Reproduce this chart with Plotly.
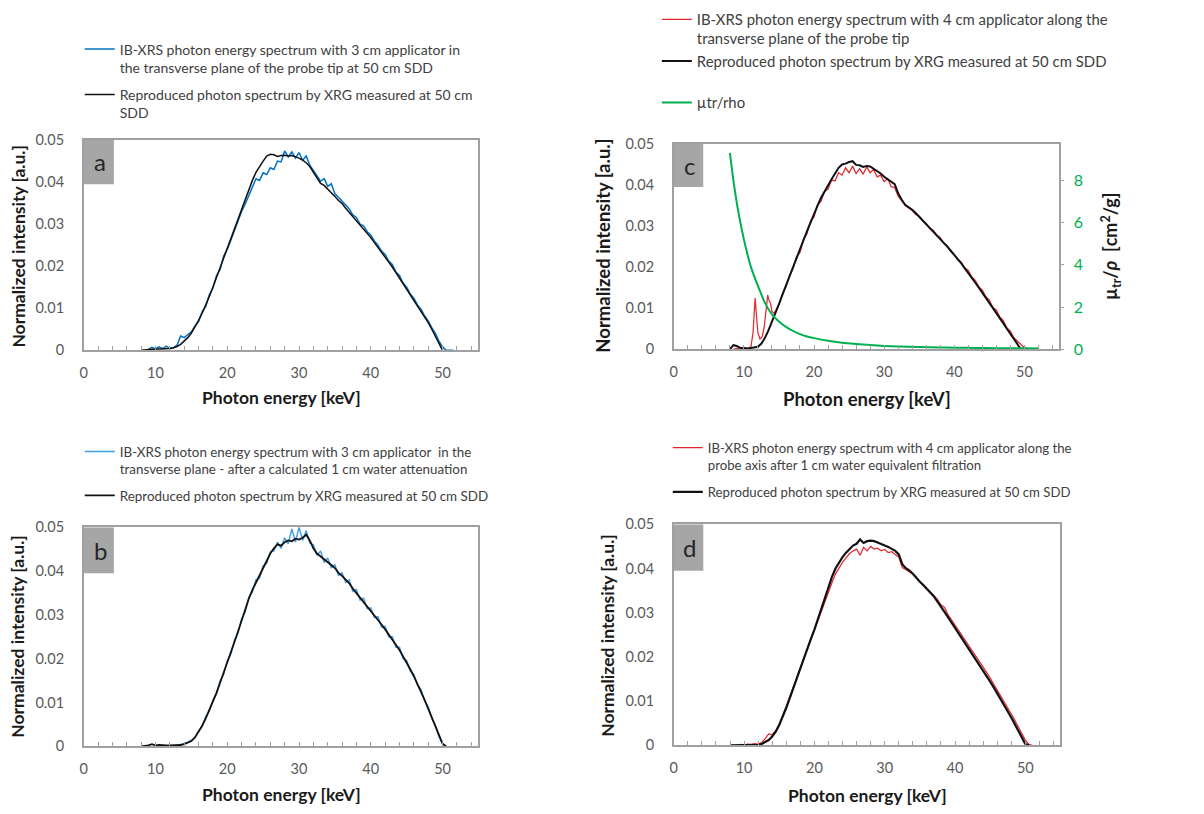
import plotly.graph_objects as go

W, H = 1204, 814
STEP = 0.5  # keV spacing of the tabulated spectra

FONT = "Lato"
TEXT = "#404040"
TICK = "#595959"
AXIS = "#a0a0a0"
BLUE_A = "#0070c0"
BLUE_B = "#3f9de2"
RED = "#e0292e"
GREEN = "#00b050"
BLACK = "#111111"

# ---------------- panel a ----------------
a_xrg_start = 8.0
a_xrg = [0.0000, 0.0001, 0.0002, 0.0003, 0.0003, 0.0003, 0.0003, 0.0003, 0.0004, 0.0006,
         0.0009, 0.0014, 0.0021, 0.0030, 0.0041, 0.0055, 0.0071, 0.0088, 0.0107, 0.0128,
         0.0150, 0.0173, 0.0196, 0.0220, 0.0244, 0.0268, 0.0292, 0.0315, 0.0338, 0.0360,
         0.0382, 0.0404, 0.0423, 0.0438, 0.0450, 0.0462, 0.0466, 0.0465, 0.0461, 0.0463,
         0.0464, 0.0462, 0.0463, 0.0460, 0.0457, 0.0452, 0.0446, 0.0437, 0.0424, 0.0410,
         0.0397, 0.0392, 0.0384, 0.0376, 0.0366, 0.0356, 0.0349, 0.0338, 0.0328, 0.0318,
         0.0307, 0.0298, 0.0287, 0.0279, 0.0268, 0.0256, 0.0245, 0.0234, 0.0222, 0.0210,
         0.0198, 0.0185, 0.0172, 0.0159, 0.0146, 0.0133, 0.0120, 0.0107, 0.0094, 0.0080,
         0.0066, 0.0050, 0.0033, 0.0015, 0.0000]
a_ibxrs_start = 9.0
a_ibxrs = [0.0002, 0.0007, 0.0003, 0.0008, 0.0004, 0.0010, 0.0004, 0.0006, 0.0012, 0.0034,
           0.0030, 0.0038, 0.0044, 0.0058, 0.0068, 0.0092, 0.0104, 0.0132, 0.0148, 0.0178,
           0.0192, 0.0224, 0.0240, 0.0262, 0.0286, 0.0306, 0.0330, 0.0348, 0.0370, 0.0388,
           0.0408, 0.0404, 0.0422, 0.0418, 0.0434, 0.0430, 0.0450, 0.0448, 0.0474, 0.0460,
           0.0472, 0.0457, 0.0470, 0.0452, 0.0462, 0.0440, 0.0428, 0.0414, 0.0402, 0.0408,
           0.0390, 0.0396, 0.0372, 0.0364, 0.0354, 0.0344, 0.0336, 0.0322, 0.0316, 0.0300,
           0.0296, 0.0282, 0.0274, 0.0260, 0.0250, 0.0236, 0.0228, 0.0212, 0.0204, 0.0186,
           0.0178, 0.0160, 0.0150, 0.0134, 0.0124, 0.0108, 0.0098, 0.0082, 0.0070, 0.0054,
           0.0040, 0.0022, 0.0008, 0.0000, 0.0000, 0.0000]

# ---------------- panel b ----------------
b_xrg_start = 8.0
b_xrg = [0.0000, 0.0001, 0.0002, 0.0005, 0.0002, 0.0003, 0.0002, 0.0002, 0.0002, 0.0002,
         0.0002, 0.0003, 0.0005, 0.0008, 0.0012, 0.0020, 0.0032, 0.0047, 0.0064, 0.0082,
         0.0101, 0.0122, 0.0145, 0.0167, 0.0190, 0.0213, 0.0238, 0.0262, 0.0288, 0.0312,
         0.0337, 0.0357, 0.0374, 0.0390, 0.0406, 0.0424, 0.0440, 0.0452, 0.0461, 0.0458,
         0.0466, 0.0470, 0.0468, 0.0474, 0.0472, 0.0476, 0.0483, 0.0470, 0.0452, 0.0440,
         0.0434, 0.0428, 0.0422, 0.0414, 0.0407, 0.0396, 0.0389, 0.0380, 0.0372, 0.0360,
         0.0350, 0.0340, 0.0330, 0.0320, 0.0309, 0.0300, 0.0289, 0.0278, 0.0267, 0.0256,
         0.0244, 0.0232, 0.0220, 0.0206, 0.0191, 0.0176, 0.0160, 0.0143, 0.0125, 0.0106,
         0.0086, 0.0066, 0.0045, 0.0024, 0.0006, 0.0000]
b_ibxrs_start = 13.0
b_ibxrs = [0.0002, 0.0004, 0.0006, 0.0009, 0.0014, 0.0021, 0.0034, 0.0045, 0.0068, 0.0080,
           0.0105, 0.0120, 0.0150, 0.0164, 0.0194, 0.0210, 0.0242, 0.0258, 0.0292, 0.0306,
           0.0340, 0.0352, 0.0380, 0.0384, 0.0412, 0.0418, 0.0444, 0.0446, 0.0466, 0.0452,
           0.0476, 0.0462, 0.0496, 0.0466, 0.0500, 0.0470, 0.0492, 0.0464, 0.0460, 0.0436,
           0.0446, 0.0420, 0.0430, 0.0408, 0.0414, 0.0390, 0.0396, 0.0374, 0.0380, 0.0354,
           0.0358, 0.0334, 0.0338, 0.0314, 0.0316, 0.0294, 0.0296, 0.0272, 0.0274, 0.0250,
           0.0250, 0.0226, 0.0226, 0.0200, 0.0196, 0.0172, 0.0164, 0.0140, 0.0130, 0.0104,
           0.0090, 0.0064, 0.0048, 0.0022, 0.0006, 0.0000]

# ---------------- panel c ----------------
c_xrg_start = 8.0
c_xrg = [0.0000, 0.0010, 0.0008, 0.0003, 0.0003, 0.0002, 0.0003, 0.0004, 0.0006, 0.0014,
         0.0028, 0.0046, 0.0066, 0.0088, 0.0110, 0.0133, 0.0156, 0.0178, 0.0200, 0.0222,
         0.0243, 0.0266, 0.0288, 0.0310, 0.0330, 0.0350, 0.0369, 0.0385, 0.0400, 0.0414,
         0.0428, 0.0442, 0.0450, 0.0452, 0.0456, 0.0458, 0.0449, 0.0448, 0.0444, 0.0446,
         0.0445, 0.0440, 0.0434, 0.0428, 0.0420, 0.0414, 0.0409, 0.0402, 0.0380, 0.0364,
         0.0352, 0.0347, 0.0340, 0.0332, 0.0323, 0.0314, 0.0306, 0.0297, 0.0288, 0.0278,
         0.0269, 0.0260, 0.0250, 0.0240, 0.0230, 0.0220, 0.0209, 0.0197, 0.0186, 0.0174,
         0.0162, 0.0150, 0.0138, 0.0126, 0.0114, 0.0101, 0.0089, 0.0076, 0.0063, 0.0050,
         0.0037, 0.0024, 0.0011, 0.0000]
# fluorescence lines below 15 keV are tabulated on a finer energy grid
c_ibxrs_low_energy = [8.5, 9.0, 9.5, 10.0, 10.5, 11.0, 11.3, 11.5, 11.6, 11.8, 12.0, 12.3,
                      12.6, 12.9, 13.2, 13.4, 13.6, 13.8, 14.0, 14.3, 14.6]
c_ibxrs_low = [0.0000, 0.0002, 0.0000, 0.0003, 0.0002, 0.0006, 0.0040, 0.0110, 0.0125, 0.0080,
               0.0040, 0.0025, 0.0030, 0.0055, 0.0110, 0.0132, 0.0118, 0.0112, 0.0092, 0.0088,
               0.0095]
c_ibxrs_high_start = 15.0
c_ibxrs_high = [0.0110, 0.0135, 0.0152, 0.0180, 0.0196, 0.0225, 0.0236, 0.0268, 0.0282, 0.0312,
                0.0322, 0.0352, 0.0360, 0.0384, 0.0390, 0.0412, 0.0410, 0.0430, 0.0424, 0.0442,
                0.0430, 0.0446, 0.0428, 0.0440, 0.0426, 0.0444, 0.0430, 0.0438, 0.0420, 0.0424,
                0.0408, 0.0416, 0.0396, 0.0394, 0.0372, 0.0362, 0.0350, 0.0344, 0.0338, 0.0328,
                0.0324, 0.0312, 0.0306, 0.0294, 0.0290, 0.0278, 0.0272, 0.0258, 0.0252, 0.0238,
                0.0230, 0.0218, 0.0212, 0.0198, 0.0192, 0.0176, 0.0168, 0.0152, 0.0144, 0.0128,
                0.0120, 0.0102, 0.0096, 0.0078, 0.0070, 0.0052, 0.0044, 0.0028, 0.0020, 0.0010,
                0.0004, 0.0000]
# mass energy-transfer coefficient of water, cm^2/g
mu_energy = [8, 8.5, 9, 9.5, 10, 11, 12, 13, 14, 15, 16, 17, 18, 19, 20, 22, 24, 26, 28,
             30, 32, 35, 38, 40, 43, 46, 50, 52]
mu_tr_rho = [9.3, 8.0, 6.9, 6.0, 5.2, 3.9, 3.0, 2.2, 1.65, 1.32, 1.06, 0.87, 0.72, 0.61,
             0.53, 0.40, 0.31, 0.25, 0.20, 0.16, 0.135, 0.105, 0.085, 0.075, 0.063, 0.055,
             0.047, 0.044]

# ---------------- panel d ----------------
d_xrg_start = 8.0
d_xrg = [0.0000, 0.0000, 0.0001, 0.0001, 0.0001, 0.0001, 0.0001, 0.0001, 0.0001, 0.0003,
         0.0007, 0.0012, 0.0020, 0.0031, 0.0046, 0.0064, 0.0085, 0.0107, 0.0130, 0.0153,
         0.0176, 0.0198, 0.0220, 0.0241, 0.0262, 0.0286, 0.0311, 0.0336, 0.0360, 0.0381,
         0.0400, 0.0414, 0.0426, 0.0436, 0.0445, 0.0452, 0.0456, 0.0466, 0.0458, 0.0462,
         0.0463, 0.0462, 0.0459, 0.0455, 0.0452, 0.0449, 0.0445, 0.0440, 0.0432, 0.0410,
         0.0401, 0.0396, 0.0388, 0.0378, 0.0370, 0.0362, 0.0354, 0.0347, 0.0337, 0.0325,
         0.0312, 0.0302, 0.0290, 0.0278, 0.0266, 0.0254, 0.0242, 0.0230, 0.0219, 0.0207,
         0.0195, 0.0182, 0.0170, 0.0157, 0.0144, 0.0131, 0.0118, 0.0104, 0.0090, 0.0077,
         0.0063, 0.0048, 0.0034, 0.0018, 0.0003, 0.0000]
d_ibxrs_start = 9.0
d_ibxrs = [0.0000, 0.0002, 0.0001, 0.0003, 0.0002, 0.0004, 0.0003, 0.0006, 0.0015, 0.0026,
           0.0024, 0.0033, 0.0048, 0.0066, 0.0088, 0.0110, 0.0133, 0.0154, 0.0176, 0.0197,
           0.0218, 0.0240, 0.0260, 0.0282, 0.0305, 0.0328, 0.0350, 0.0368, 0.0388, 0.0402,
           0.0414, 0.0424, 0.0434, 0.0440, 0.0444, 0.0430, 0.0448, 0.0440, 0.0450, 0.0444,
           0.0446, 0.0440, 0.0443, 0.0436, 0.0438, 0.0432, 0.0426, 0.0402, 0.0398, 0.0392,
           0.0388, 0.0380, 0.0370, 0.0364, 0.0356, 0.0348, 0.0340, 0.0330, 0.0318, 0.0312,
           0.0296, 0.0284, 0.0272, 0.0262, 0.0248, 0.0238, 0.0226, 0.0215, 0.0202, 0.0190,
           0.0178, 0.0165, 0.0152, 0.0139, 0.0126, 0.0112, 0.0098, 0.0085, 0.0071, 0.0057,
           0.0042, 0.0027, 0.0012, 0.0002, 0.0000]

# ---------------- axis labelling ----------------
x_tickvals = [0, 10, 20, 30, 40, 50]
y_tickvals = [0, 0.01, 0.02, 0.03, 0.04, 0.05]
y_ticktext = ["0", "0.01", "0.02", "0.03", "0.04", "0.05"]
mu_tickvals = [0, 2, 4, 6, 8]
panel_letters = ["a", "b", "c", "d"]


def kev_grid(start, values):
    return [round(start + STEP * i, 2) for i in range(len(values))]


def px_x(v):
    return v / W


def px_y(v):
    return 1 - v / H


# plot-area pixel boxes (left, right, top, bottom) for each panel
boxes = {
    "a": (80, 476, 134, 349),
    "b": (80, 476, 530, 754),
    "c": (672, 1059, 138, 348),
    "d": (672, 1060, 527, 753),
}
axis_ids = {"a": ("x", "y"), "b": ("x2", "y2"), "c": ("x3", "y3"), "d": ("x4", "y4")}

fig = go.Figure()


def add_line(x, y, axes, color, width, legend, group, name, **line_kw):
    fig.add_trace(go.Scatter(
        x=x, y=y, xaxis=axes[0], yaxis=axes[1], mode="lines",
        line=dict(color=color, width=width, **line_kw),
        legend=legend, legendgroup=group, name=name))


# panel a
add_line(kev_grid(a_ibxrs_start, a_ibxrs), a_ibxrs, ("x", "y"), BLUE_A, 1.5, "legend", "a1",
         "IB-XRS photon energy spectrum with 3 cm applicator in<br>"
         "the transverse plane of the probe tip at 50 cm SDD")
add_line(kev_grid(a_xrg_start, a_xrg), a_xrg, ("x", "y"), BLACK, 1.5, "legend", "a2",
         "Reproduced photon spectrum by XRG measured at 50 cm<br>SDD")

# panel b
add_line(kev_grid(b_ibxrs_start, b_ibxrs), b_ibxrs, ("x2", "y2"), BLUE_B, 1.4, "legend2", "b1",
         "IB-XRS photon energy spectrum with 3 cm applicator  in the<br>"
         "transverse plane - after a calculated 1 cm water attenuation")
add_line(kev_grid(b_xrg_start, b_xrg), b_xrg, ("x2", "y2"), BLACK, 1.8, "legend2", "b2",
         "Reproduced photon spectrum by XRG measured at 50 cm SDD")

# panel c
add_line(c_ibxrs_low_energy + kev_grid(c_ibxrs_high_start, c_ibxrs_high),
         c_ibxrs_low + c_ibxrs_high, ("x3", "y3"), RED, 1.25, "legend3", "c1",
         "IB-XRS photon energy spectrum with 4 cm applicator along the<br>"
         "transverse plane of the probe tip")
add_line(kev_grid(c_xrg_start, c_xrg), c_xrg, ("x3", "y3"), BLACK, 2.0, "legend3", "c2",
         "Reproduced photon spectrum by XRG measured at 50 cm SDD")
add_line(mu_energy, mu_tr_rho, ("x3", "y5"), GREEN, 2.0, "legend5", "c3",
         "µtr/rho", shape="spline", smoothing=0.6)

# panel d
add_line(kev_grid(d_ibxrs_start, d_ibxrs), d_ibxrs, ("x4", "y4"), RED, 1.25, "legend4", "d1",
         "IB-XRS photon energy spectrum with 4 cm applicator along the<br>"
         "probe axis after 1 cm water equivalent filtration")
add_line(kev_grid(d_xrg_start, d_xrg), d_xrg, ("x4", "y4"), BLACK, 2.2, "legend4", "d2",
         "Reproduced photon spectrum by XRG measured at 50 cm SDD")


def x_axis(key):
    l, r, t, b = boxes[key]
    return dict(
        domain=[px_x(l), px_x(r)], anchor=axis_ids[key][1], range=[0, 55],
        tickvals=x_tickvals, ticks="inside", ticklen=5, tickwidth=1, tickcolor=AXIS,
        minor=dict(dtick=2, tick0=0, ticks="inside", ticklen=5, tickwidth=1, tickcolor=AXIS),
        showline=True, linecolor=AXIS, linewidth=1.5, mirror=True,
        showgrid=False, zeroline=False, ticklabelstandoff=9,
        tickfont=dict(family=FONT, size=14.5, color=TICK))


def y_axis(key):
    l, r, t, b = boxes[key]
    return dict(
        domain=[px_y(b), px_y(t)], anchor=axis_ids[key][0], range=[0, 0.05],
        tickvals=y_tickvals, ticktext=y_ticktext, ticks="",
        showline=True, linecolor=AXIS, linewidth=1.5, mirror=True,
        showgrid=False, zeroline=False, ticklabelstandoff=15,
        tickfont=dict(family=FONT, size=14.5, color=TICK))


shapes = []
annotations = []
for i, key in enumerate(["a", "b", "c", "d"]):
    xa, ya = axis_ids[key]
    shapes.append(dict(type="rect", xref=xa, yref=ya, x0=0, x1=4.2, y0=0.0395, y1=0.05,
                       fillcolor="#a6a6a6", line=dict(width=0), layer="below"))
    annotations.append(dict(text=panel_letters[i], xref=xa, yref=ya, x=2.3, y=0.0448,
                            showarrow=False, font=dict(family=FONT, size=24, color="#262626")))

# axis titles: (text, x px, y px, angle, size)
titles = [
    ("Normalized intensity [a.u.]", 15, 242, -90, 17.5),
    ("Normalized intensity [a.u.]", 14, 641, -90, 17.5),
    ("Normalized intensity [a.u.]", 601, 242, -90, 18.5),
    ("Normalized intensity [a.u.]", 606, 640, -90, 17.5),
    ("Photon energy [keV]", 278, 397, 0, 17.5),
    ("Photon energy [keV]", 278, 803, 0, 17.5),
    ("Photon energy [keV]", 866, 399, 0, 18.5),
    ("Photon energy [keV]", 866, 804, 0, 17.5),
]
for text, x, y, ang, size in titles:
    annotations.append(dict(text="<b>" + text + "</b>", xref="paper", yref="paper",
                            x=px_x(x), y=px_y(y), xanchor="center", yanchor="middle",
                            textangle=ang, showarrow=False,
                            font=dict(family=FONT, size=size, color="#1a1a1a")))
annotations.append(dict(text="<b>µ<sub>tr</sub>/<i>ρ</i>  [cm<sup>2</sup>/g]</b>",
                        xref="paper", yref="paper", x=px_x(1110), y=px_y(243),
                        xanchor="center", yanchor="middle", textangle=-90, showarrow=False,
                        font=dict(family=FONT, size=18, color="#1a1a1a")))


def legend_at(xpx, ypx, size, gap):
    return dict(x=px_x(xpx), y=px_y(ypx), xanchor="left", yanchor="top",
                bgcolor="rgba(0,0,0,0)", borderwidth=0, valign="top", itemwidth=30,
                tracegroupgap=gap, font=dict(family=FONT, size=size, color=TEXT))


fig.update_layout(
    width=W, height=H, margin=dict(l=0, r=0, t=0, b=0),
    paper_bgcolor="white", plot_bgcolor="white",
    showlegend=True,
    xaxis=x_axis("a"), yaxis=y_axis("a"),
    xaxis2=x_axis("b"), yaxis2=y_axis("b"),
    xaxis3=x_axis("c"), yaxis3=y_axis("c"),
    xaxis4=x_axis("d"), yaxis4=y_axis("d"),
    yaxis5=dict(overlaying="y3", anchor="x3", side="right", range=[0, 9.72],
                tickvals=mu_tickvals, ticks="outside", ticklen=4, tickcolor=AXIS,
                showline=False, showgrid=False, zeroline=False, ticklabelstandoff=6,
                tickfont=dict(family=FONT, size=16, color=GREEN)),
    legend=legend_at(76, 25, 14.0, 6),
    legend2=legend_at(76, 437, 13.4, 6),
    legend3=legend_at(655, -6, 14.9, 0),
    legend5=legend_at(655, 79, 14.9, 0),
    legend4=legend_at(666, 433, 13.2, 7),
    shapes=shapes, annotations=annotations,
)

fig.write_html("out.html")
